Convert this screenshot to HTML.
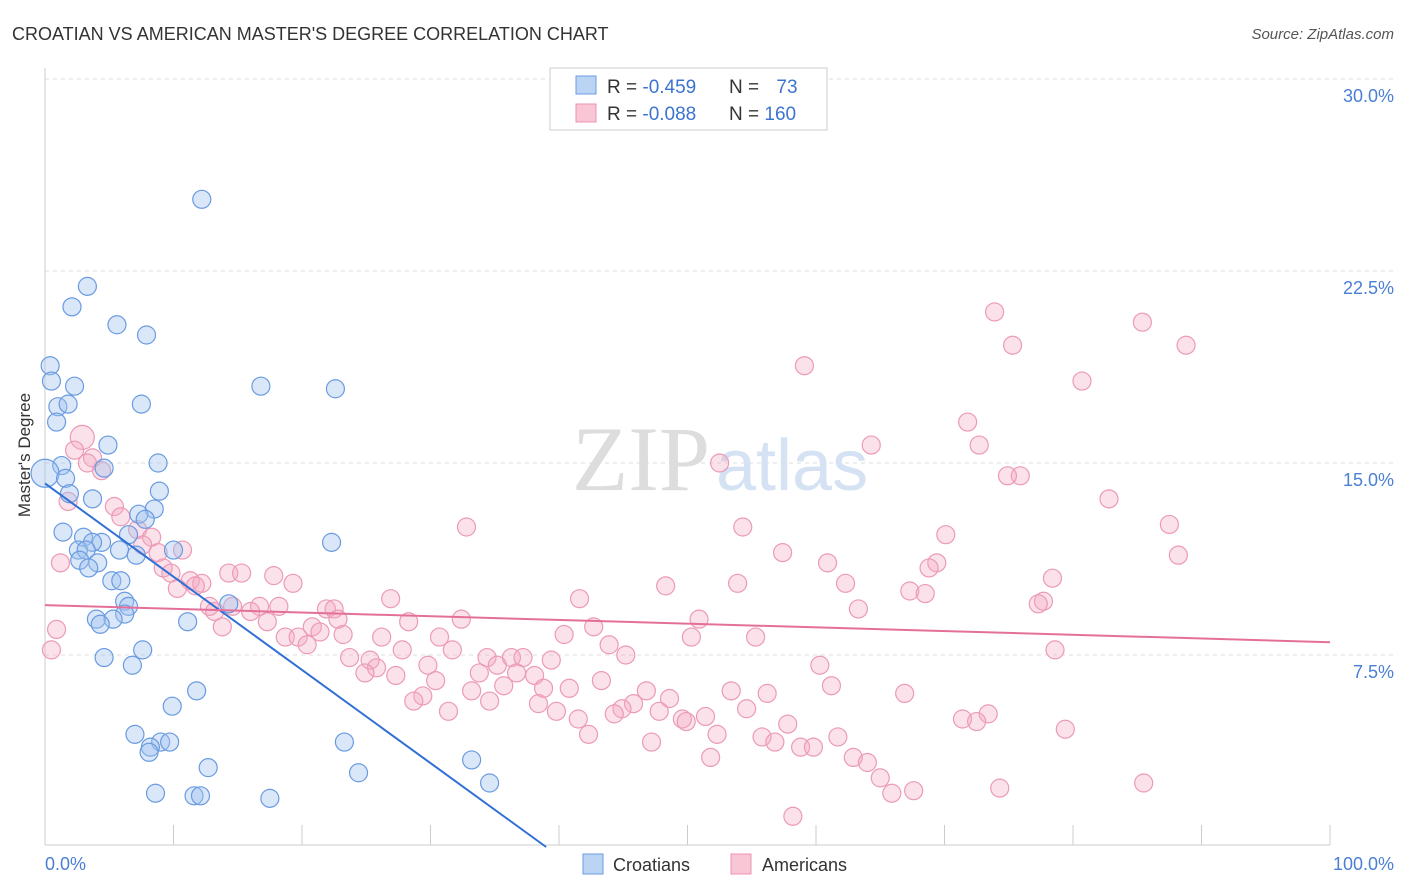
<!DOCTYPE html>
<html><head><meta charset="utf-8"><style>
body{margin:0;background:#fff;font-family:"Liberation Sans",sans-serif;}
svg{display:block}
</style></head><body>
<svg width="1406" height="892">
<text x="12" y="40" font-size="18" fill="#333">CROATIAN VS AMERICAN MASTER'S DEGREE CORRELATION CHART</text>
<text x="1394" y="39" font-size="15" fill="#555" font-style="italic" text-anchor="end">Source: ZipAtlas.com</text>
<g id="grid"></g>
<text x="710" y="490" font-size="92" fill="#ddd" text-anchor="end" font-family="Liberation Serif,serif">ZIP</text>
<text x="716" y="490" font-size="72" fill="#d4e2f4">atlas</text>
<g id="pts"></g>
<g id="lines"></g>
<text x="30" y="455" font-size="17" fill="#333" text-anchor="middle" transform="rotate(-90 30 455)">Master's Degree</text>
<text x="45" y="870" font-size="18" fill="#4a7fd4">0.0%</text>
<text x="1394" y="870" font-size="18" fill="#4a7fd4" text-anchor="end">100.0%</text>
<g>
<rect x="550" y="68" width="277" height="62" fill="#fff" stroke="#ccc"/>
<rect x="576" y="76" width="20" height="18" fill="#bcd4f4" stroke="#6a9be0"/>
<rect x="576" y="104" width="20" height="18" fill="#f9c6d6" stroke="#eb93b3"/>
<text x="607" y="93" font-size="19" fill="#333">R = <tspan fill="#3d74cf">-0.459</tspan></text>
<text x="729" y="93" font-size="19" fill="#333">N = <tspan fill="#3d74cf" dx="12">73</tspan></text>
<text x="607" y="120" font-size="19" fill="#333">R = <tspan fill="#3d74cf">-0.088</tspan></text>
<text x="729" y="120" font-size="19" fill="#333">N = <tspan fill="#3d74cf">160</tspan></text>
</g>
<g>
<rect x="583" y="854" width="20" height="20" fill="#bcd4f4" stroke="#6a9be0"/>
<text x="613" y="871" font-size="18" fill="#333">Croatians</text>
<rect x="731" y="854" width="20" height="20" fill="#f9c6d6" stroke="#eb93b3"/>
<text x="762" y="871" font-size="18" fill="#333">Americans</text>
</g>
</svg>
<script>
const yTicks=[7.5,15,22.5,30];
const yTickLabels=["7.5%","15.0%","22.5%","30.0%"];
const xTicks=[10,20,30,40,50,60,70,80,90,100];
const croX=[12.2,3.3,2.1,5.6,7.9,0.4,0.5,2.3,16.8,22.6,1.0,1.8,7.5,0.9,4.9,1.3,8.8,4.6,0,1.6,1.9,8.9,3.7,8.5,7.3,7.8,1.4,6.5,3.0,4.4,22.3,3.7,2.6,3.2,5.8,10.0,7.1,2.7,4.1,3.4,5.2,5.9,6.2,14.3,6.5,4.0,6.2,5.3,4.3,11.1,7.6,4.6,6.8,11.8,9.9,7.0,9.0,9.7,8.2,8.1,23.3,33.2,12.7,24.4,34.6,8.6,11.6,12.1,17.5];
const croY=[25.3,21.9,21.1,20.4,20.0,18.8,18.2,18.0,18.0,17.9,17.2,17.3,17.3,16.6,15.7,14.9,15.0,14.8,14.6,14.4,13.8,13.9,13.6,13.2,13.0,12.8,12.3,12.2,12.1,11.9,11.9,11.9,11.6,11.6,11.6,11.6,11.4,11.2,11.1,10.9,10.4,10.4,9.6,9.5,9.4,8.9,9.1,8.9,8.7,8.8,7.7,7.4,7.1,6.1,5.5,4.4,4.1,4.1,3.9,3.7,4.1,3.4,3.1,2.9,2.5,2.1,2.0,2.0,1.9];
const amX=[73.9,85.4,75.3,88.8,59.1,80.7,71.8,72.7,64.3,2.9,2.3,3.7,3.3,52.5,4.4,75.9,74.9,1.8,5.4,82.8,5.9,32.8,54.3,87.5,7.2,70.1,8.3,7.6,10.7,8.8,57.4,88.2,1.2,60.9,69.4,68.8,9.2,9.8,14.3,15.3,17.8,11.3,12.2,11.7,19.3,48.3,53.9,62.3,78.4,10.3,67.3,68.5,26.9,41.6,77.7,77.3,12.8,14.6,16.7,18.2,16.0,21.9,22.5,63.3,13.2,22.8,32.4,50.9,17.3,28.3,13.8,20.8,21.4,42.7,0.9,40.4,23.2,50.3,55.3,18.7,19.7,26.2,30.7,20.4,43.9,27.8,31.7,78.6,0.5,23.7,34.4,36.3,37.2,45.2,25.3,39.4,29.8,60.3,25.8,35.2,33.8,36.7,24.9,27.3,38.1,30.4,43.3,35.7,61.2,38.8,40.8,33.2,46.8,53.4,56.2,66.9,29.4,28.7,34.6,48.6,45.8,38.4,44.9,54.6,47.8,31.4,39.8,44.3,51.4,73.4,41.5,49.6,71.4,72.5,49.9,57.8,79.4,52.3,42.3,61.7,55.8,47.2,56.8,58.8,59.8,51.8,62.9,64.0,65.0,85.5,74.3,67.6,65.9,58.2];
const amY=[20.9,20.5,19.6,19.6,18.8,18.2,16.6,15.7,15.7,16.0,15.5,15.2,15.0,15.0,14.7,14.5,14.5,13.5,13.3,13.6,12.9,12.5,12.5,12.6,12.4,12.2,12.1,11.8,11.6,11.5,11.5,11.4,11.1,11.1,11.1,10.9,10.9,10.7,10.7,10.7,10.6,10.4,10.3,10.2,10.3,10.2,10.3,10.3,10.5,10.1,10.0,9.9,9.7,9.7,9.6,9.5,9.4,9.4,9.4,9.4,9.2,9.3,9.3,9.3,9.2,8.9,8.9,8.9,8.8,8.8,8.6,8.6,8.4,8.6,8.5,8.3,8.3,8.2,8.2,8.2,8.2,8.2,8.2,7.9,7.9,7.7,7.7,7.7,7.7,7.4,7.4,7.4,7.4,7.5,7.3,7.3,7.1,7.1,7.0,7.1,6.8,6.8,6.8,6.7,6.7,6.5,6.5,6.3,6.3,6.2,6.2,6.1,6.1,6.1,6.0,6.0,5.9,5.7,5.7,5.8,5.6,5.6,5.4,5.4,5.3,5.3,5.3,5.2,5.1,5.2,5.0,5.0,5.0,4.9,4.9,4.8,4.6,4.4,4.4,4.3,4.3,4.1,4.1,3.9,3.9,3.5,3.5,3.3,2.7,2.5,2.3,2.2,2.1,1.2];
const croTrend=[0,14.2,39,0];
const amTrend=[0,9.45,100,8.0];
const sx=v=>45+v*12.85, sy=v=>847-v*25.6;
const NS="http://www.w3.org/2000/svg";
function mk(t,a,p){const e=document.createElementNS(NS,t);for(const k in a)e.setAttribute(k,a[k]);p.appendChild(e);return e;}
const g=document.getElementById('grid');
const ax=mk('line',{x1:45,y1:68,x2:45,y2:845,stroke:'#ccc'},g);

const bx=mk('line',{x1:45,y1:845,x2:1330,y2:845,stroke:'#ccc'},g);

yTicks.forEach((v,i)=>{
 const l=mk('line',{x1:45,y1:sy(v),x2:1394,y2:sy(v),stroke:'#ddd','stroke-dasharray':'4,4'},g);
 
 const t=mk('text',{x:1394,y:sy(v)+23,'font-size':18,fill:'#4a7fd4','text-anchor':'end'},g);
 t.textContent=yTickLabels[i];
 
});
xTicks.forEach(v=>{
 const l=mk('line',{x1:sx(v),y1:825,x2:sx(v),y2:845,stroke:'#ccc'},g);
 
});
const p=document.getElementById('pts');
amX.forEach((x,i)=>{
 const c=mk('circle',{cx:sx(x),cy:sy(amY[i]),r:(x<5&&amY[i]>15.8)?12:9,fill:'rgba(244,170,195,0.35)',stroke:'#ec9ab6','stroke-width':1.2},p);
 
});
croX.forEach((x,i)=>{
 const c=mk('circle',{cx:sx(x),cy:sy(croY[i]),r:x===0?14:9,fill:'rgba(160,195,240,0.4)',stroke:'#6a9be0','stroke-width':1.2},p);
 
});
const L=document.getElementById('lines');
const l1=mk('line',{x1:sx(croTrend[0]),y1:sy(croTrend[1]),x2:sx(croTrend[2]),y2:sy(croTrend[3]),stroke:'#2f6fd6','stroke-width':2},L);

const l2=mk('line',{x1:sx(amTrend[0]),y1:sy(amTrend[1]),x2:sx(amTrend[2]),y2:sy(amTrend[3]),stroke:'#e4709a','stroke-width':2},L);

</script>
</body></html>
